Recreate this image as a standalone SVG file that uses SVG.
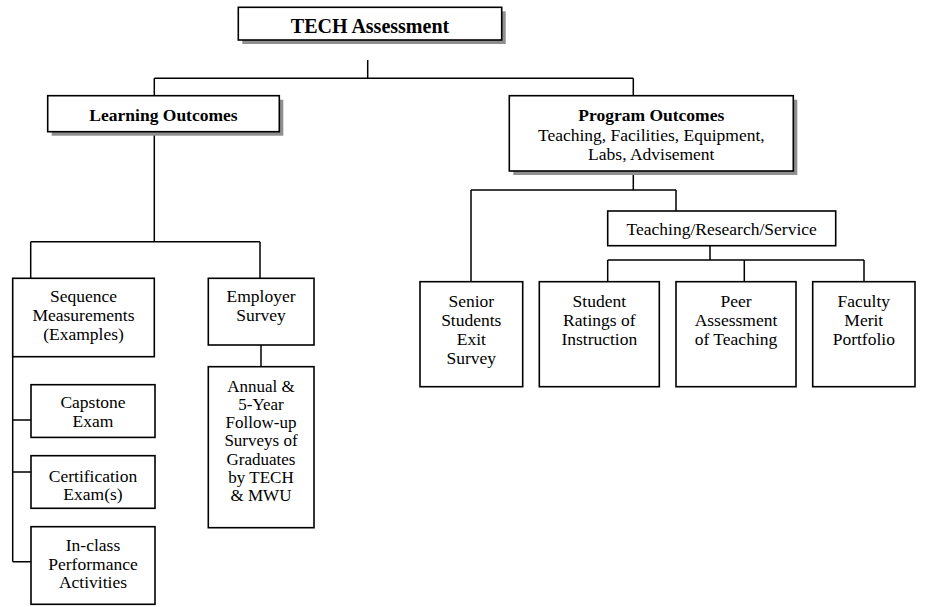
<svg xmlns="http://www.w3.org/2000/svg" width="943" height="607" viewBox="0 0 943 607">
<style>
.bx{fill:#fff;stroke:#000;stroke-width:1.6}
.sh{fill:#8f8f8f}
.ln{fill:none;stroke:#000;stroke-width:1.5}
text{font-family:"Liberation Serif","Times New Roman",serif;font-size:17.5px;fill:#000;text-anchor:middle}
.b{font-weight:bold}
.big{font-size:20px;font-weight:bold}
.sm{font-size:17px}
</style>
<rect width="943" height="607" fill="#fff"/>
<g id="connectors" class="ln">
<path d="M367.7,60V78.3M154.3,78.3H633.3M154.3,78.3V95.7M633.3,78.3V95.7"/>
<path d="M154.3,131.7V241.7M30.7,241.7H260M30.7,241.7V278.3M260,241.7V278.3"/>
<path d="M12.7,356.7V561.7M12.7,420H31M12.7,472H31M12.7,561.7H31"/>
<path d="M261,345V366.7"/>
<path d="M633.3,171V190M471,190H676M471,190V281.7M676,190V211"/>
<path d="M710,245.7V260M607.7,260H864M607.7,260V281.7M744.3,260V281.7M864,260V281.7"/>
</g>
<g id="tech">
<rect class="sh" x="242.3" y="11.3" width="263.4" height="32.7"/>
<rect class="bx" x="238.3" y="7.3" width="263.4" height="32.7"/>
<text class="big" x="370" y="33">TECH Assessment</text>
</g>
<g id="learning">
<rect class="sh" x="51.7" y="99.7" width="231.6" height="36"/>
<rect class="bx" x="47.7" y="95.7" width="231.6" height="36"/>
<text class="b" x="163.5" y="120.5">Learning Outcomes</text>
</g>
<g id="program">
<rect class="sh" x="513.3" y="99.7" width="284" height="75.3"/>
<rect class="bx" x="509.3" y="95.7" width="284" height="75.3"/>
<text x="651.3"><tspan class="b" x="651.3" y="121">Program Outcomes</tspan><tspan x="651.3" y="140.5">Teaching, Facilities, Equipment,</tspan><tspan x="651.3" y="160">Labs, Advisement</tspan></text>
</g>
<g id="sequence">
<rect class="bx" x="12.7" y="278.3" width="141.6" height="78.4"/>
<text><tspan x="83.5" y="301.7">Sequence</tspan><tspan x="83.5" y="320.7">Measurements</tspan><tspan x="83.5" y="339.7">(Examples)</tspan></text>
</g>
<g id="employer">
<rect class="bx" x="208.3" y="278.3" width="105.7" height="66.7"/>
<text><tspan x="261" y="301.7">Employer</tspan><tspan x="261" y="320.7">Survey</tspan></text>
</g>
<g id="annual">
<rect class="bx" x="208.3" y="366.7" width="105.7" height="161"/>
<text class="sm"><tspan x="261" y="391.5">Annual &amp;</tspan><tspan x="261" y="409.8">5-Year</tspan><tspan x="261" y="428.1">Follow-up</tspan><tspan x="261" y="446.4">Surveys of</tspan><tspan x="261" y="464.7">Graduates</tspan><tspan x="261" y="483">by TECH</tspan><tspan x="261" y="501.3">&amp; MWU</tspan></text>
</g>
<g id="capstone">
<rect class="bx" x="31" y="384.7" width="124" height="52.7"/>
<text><tspan x="93" y="408.3">Capstone</tspan><tspan x="93" y="426.7">Exam</tspan></text>
</g>
<g id="certification">
<rect class="bx" x="31" y="455.7" width="124" height="52.6"/>
<text><tspan x="93" y="481.7">Certification</tspan><tspan x="93" y="500">Exam(s)</tspan></text>
</g>
<g id="inclass">
<rect class="bx" x="31" y="526.7" width="124" height="77.6"/>
<text><tspan x="93" y="550.7">In-class</tspan><tspan x="93" y="569.5">Performance</tspan><tspan x="93" y="588.3">Activities</tspan></text>
</g>
<g id="trs">
<rect class="bx" x="607.7" y="211" width="228" height="34.7"/>
<text x="721.7" y="234.5">Teaching/Research/Service</text>
</g>
<g id="senior">
<rect class="bx" x="420" y="281.7" width="102.7" height="105"/>
<text><tspan x="471.3" y="306.5">Senior</tspan><tspan x="471.3" y="325.5">Students</tspan><tspan x="471.3" y="344.5">Exit</tspan><tspan x="471.3" y="363.5">Survey</tspan></text>
</g>
<g id="student">
<rect class="bx" x="539.3" y="281.7" width="120" height="105"/>
<text><tspan x="599.3" y="306.5">Student</tspan><tspan x="599.3" y="325.5">Ratings of</tspan><tspan x="599.3" y="344.5">Instruction</tspan></text>
</g>
<g id="peer">
<rect class="bx" x="676" y="281.7" width="120" height="105"/>
<text><tspan x="736" y="306.5">Peer</tspan><tspan x="736" y="325.5">Assessment</tspan><tspan x="736" y="344.5">of Teaching</tspan></text>
</g>
<g id="faculty">
<rect class="bx" x="812.7" y="281.7" width="102.3" height="105"/>
<text><tspan x="863.8" y="306.5">Faculty</tspan><tspan x="863.8" y="325.5">Merit</tspan><tspan x="863.8" y="344.5">Portfolio</tspan></text>
</g>
</svg>
